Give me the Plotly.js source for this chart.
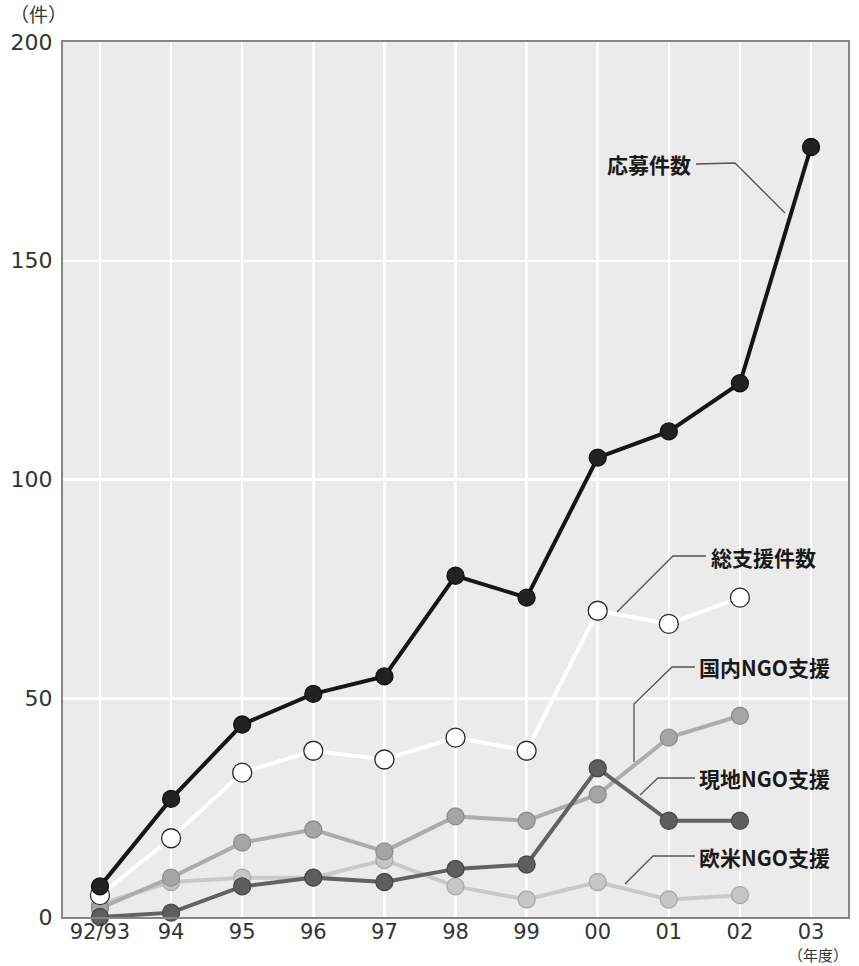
<!DOCTYPE html>
<html>
<head>
<meta charset="utf-8">
<script src="https://cdn.plot.ly/plotly-3.0.1.min.js"></script>
<style>
  html, body { margin: 0; padding: 0; background: #ffffff; }
  #chart { width: 859px; height: 966px; }
</style>
</head>
<body>
<div id="chart"></div>
<script>
// ---- data ----
const years = ['92/93', '94', '95', '96', '97', '98', '99', '00', '01', '02', '03'];
const applications = [7, 27, 44, 51, 55, 78, 73, 105, 111, 122, 176];   // 応募件数
const totalSupport = [5, 18, 33, 38, 36, 41, 38, 70, 67, 73];            // 総支援件数
const domesticNGO  = [2, 9, 17, 20, 15, 23, 22, 28, 41, 46];             // 国内NGO支援
const localNGO     = [0, 1, 7, 9, 8, 11, 12, 34, 22, 22];                // 現地NGO支援
const westernNGO   = [3, 8, 9, 9, 13, 7, 4, 8, 4, 5];                    // 欧米NGO支援
const yTicks = [0, 50, 100, 150, 200];
const seriesNames = ['応募件数', '総支援件数', '国内NGO支援', '現地NGO支援', '欧米NGO支援'];

// ---- layout helpers (pixel -> paper) ----
const W = 859, H = 966;
const L = 63, R = 848, T = 42, B = 917;
const px = x => (x - L) / (R - L);
const py = y => (B - y) / (B - T);

function series(name, vals, lineColor, fill, outline, size) {
  return {
    type: 'scatter', mode: 'lines+markers', name: name,
    x: years.slice(0, vals.length), y: vals,
    line: { color: lineColor, width: 4 },
    marker: { size: size, color: fill, line: { color: outline, width: 1.3 } },
    hoverinfo: 'x+y', cliponaxis: false
  };
}

const traces = [
  series(seriesNames[4], westernNGO, '#c9c9c9', '#c6c6c6', '#a9a9a9', 17),
  series(seriesNames[2], domesticNGO, '#acacac', '#a5a5a5', '#8c8c8c', 17),
  series(seriesNames[3], localNGO, '#626262', '#5e5e5e', '#474747', 17),
  series(seriesNames[1], totalSupport, '#ffffff', '#ffffff', '#2a2a2a', 19),
  series(seriesNames[0], applications, '#161616', '#222222', '#111111', 17)
];

const labelFont = { family: '"Noto Sans CJK JP", "Noto Sans", sans-serif', size: 21, color: '#1a1a1a', weight: 700 };
const tickFont = { family: '"DejaVu Sans", sans-serif', size: 22, color: '#333333' };
const unitFont = { family: '"Noto Sans CJK JP", sans-serif', size: 19, color: '#333333' };

function lbl(text, xPix, yPix) {
  return { text: text, xref: 'paper', yref: 'paper', x: px(xPix), y: py(yPix),
           xanchor: 'left', yanchor: 'middle', showarrow: false, font: labelFont };
}
function leader(points) {
  let d = '';
  points.forEach((p, i) => { d += (i ? ' L ' : 'M ') + px(p[0]) + ' ' + py(p[1]); });
  return { type: 'path', xref: 'paper', yref: 'paper', path: d,
           line: { color: '#555555', width: 1.3 }, layer: 'above' };
}

const layout = {
  width: W, height: H,
  margin: { l: L, r: W - R, t: T, b: H - B, pad: 0 },
  paper_bgcolor: '#ffffff',
  plot_bgcolor: '#ebebeb',
  showlegend: false,
  xaxis: {
    type: 'category', categoryorder: 'array', categoryarray: years,
    range: [-0.52, 10.52], showgrid: true, gridcolor: '#ffffff', gridwidth: 2.5,
    showline: true, mirror: true, linecolor: '#858585', linewidth: 2,
    ticks: '', tickfont: { family: tickFont.family, size: 21, color: tickFont.color },
    zeroline: false, ticklabelstandoff: -5
  },
  yaxis: {
    range: [0, 200], tickvals: yTicks, ticktext: yTicks.map(String),
    showgrid: true, gridcolor: '#ffffff', gridwidth: 2.5,
    showline: true, mirror: true, linecolor: '#858585', linewidth: 2,
    ticks: '', tickfont: tickFont, zeroline: false, ticklabelstandoff: 4
  },
  annotations: [
    { text: '（件）', xref: 'paper', yref: 'paper', x: px(69), y: py(14), xanchor: 'right', yanchor: 'middle',
      showarrow: false, font: unitFont },
    { text: '（年度）', xref: 'paper', yref: 'paper', x: px(818), y: py(966), xanchor: 'center', yanchor: 'bottom',
      borderpad: 0, showarrow: false, font: { family: unitFont.family, size: 15, color: '#333333' } },
    lbl(seriesNames[0], 605, 164),
    lbl(seriesNames[1], 709, 557),
    lbl(seriesNames[2], 697, 667),
    lbl(seriesNames[3], 697, 778),
    lbl(seriesNames[4], 697, 857)
  ],
  shapes: [
    leader([[696, 164], [735, 163], [785, 213]]),
    leader([[706, 556], [673, 556], [617, 612]]),
    leader([[695, 667], [672, 667], [634, 704], [634, 762]]),
    leader([[695, 778], [658, 778], [640, 795]]),
    leader([[695, 856], [653, 856], [625, 884]])
  ]
};

Plotly.newPlot('chart', traces, layout, { displayModeBar: false, staticPlot: true });
</script>
</body>
</html>
